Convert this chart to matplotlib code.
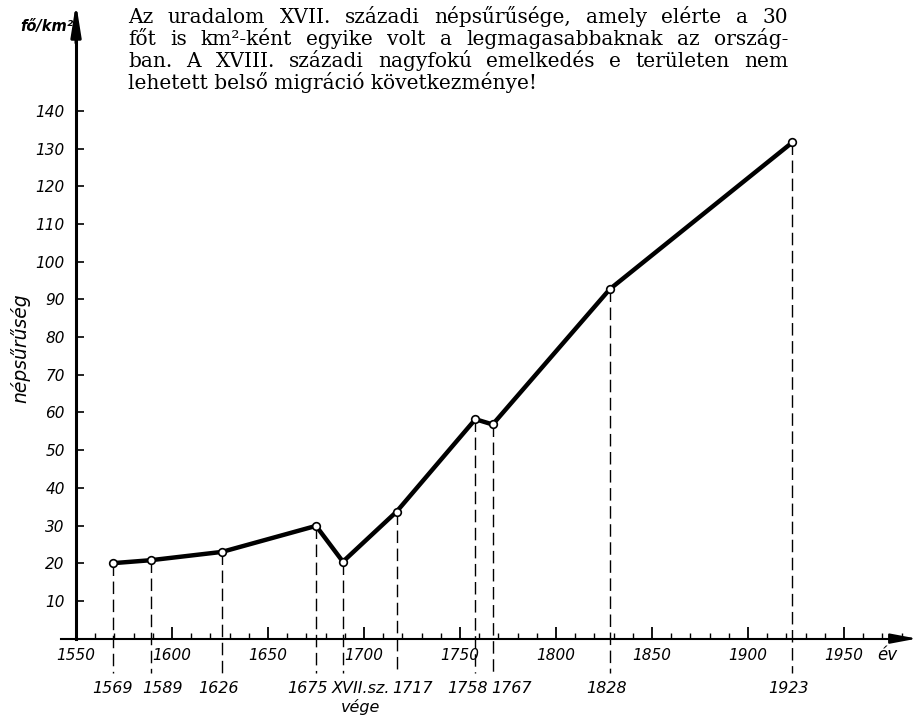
import matplotlib
matplotlib.use('Agg')
import matplotlib.pyplot as plt
from matplotlib.transforms import IdentityTransform

# DATA
years = [1569, 1589, 1626, 1675, 1689, 1717, 1758, 1767, 1828, 1923]
density = [20.0, 20.8, 23.0, 29.9, 20.4, 33.7, 58.2, 56.8, 92.7, 131.6]
year_labels = ['1569', '1589', '1626', '1675', 'XVII.sz.\nvége',
               '1717', '1758', '1767', '1828', '1923']
y_ticks = list(range(10, 150, 10))
x_major = list(range(1550, 2000, 50))
x_minor = list(range(1550, 1990, 10))
title_lines = [
    'Az uradalom XVII. századi népsűrűsége, amely elérte a 30',
    'főt is km²-ként egyike volt a legmagasabbaknak az ország-',
    'ban. A XVIII. századi nagyfokú emelkedés e területen nem',
    'lehetett belső migráció következménye!',
]

W, H = 922, 718


def justify_line(fig, renderer, text, x0, x1, ypix, justify, **kw):
    if not justify:
        fig.text(x0, ypix, text, transform=IdentityTransform(), va='baseline', **kw)
        return
    words = text.split(' ')
    objs = [fig.text(0, ypix, w, transform=IdentityTransform(), va='baseline', **kw) for w in words]
    widths = [t.get_window_extent(renderer).width for t in objs]
    gap = (x1 - x0 - sum(widths)) / (len(words) - 1)
    x = x0
    for t, w in zip(objs, widths):
        t.set_x(x)
        x += w + gap


def main():

    fig = plt.figure(figsize=(W / 100, H / 100), dpi=100)
    ax = fig.add_axes([0, 0, 1, 1])
    ax.set_xlim(1510.4, 1990.6)
    ax.set_ylim(-21.06, 169.4)
    ax.patch.set_alpha(0)

    # axes crossing at (1550, 0)
    ax.spines['top'].set_visible(False)
    ax.spines['right'].set_visible(False)
    ax.spines['left'].set_position(('data', 1550))
    ax.spines['bottom'].set_position(('data', 0))
    ax.spines['left'].set_bounds(0, 162)
    ax.spines['bottom'].set_bounds(1542, 1978)
    ax.spines['left'].set_linewidth(2.2)
    ax.spines['bottom'].set_linewidth(1.5)

    ax.annotate('', xy=(1550, 168.6), xytext=(1550, 158),
                arrowprops=dict(arrowstyle='-|>,head_length=1.9,head_width=0.3',
                                color='black', lw=2.2, shrinkA=0, shrinkB=0))
    ax.annotate('', xy=(1988, 0), xytext=(1975, 0),
                arrowprops=dict(arrowstyle='-|>,head_length=1.6,head_width=0.3',
                                color='black', lw=1.5, shrinkA=0, shrinkB=0))

    tick_font = dict(fontsize=11, fontstyle='italic', family='DejaVu Sans')

    ax.set_xticks(x_major)
    ax.set_xticks(x_minor, minor=True)
    ax.set_xticklabels([str(v) for v in x_major], **tick_font)
    ax.tick_params(axis='x', which='major', direction='in', length=9, width=1.3, pad=7)
    ax.tick_params(axis='x', which='minor', direction='in', length=4, width=1.0)

    ax.set_yticks(y_ticks)
    ax.set_yticklabels([str(v) for v in y_ticks], **tick_font)
    ax.tick_params(axis='y', which='major', direction='in', length=6, width=1.2, pad=8)

    # dashed drop lines
    for yr, v in zip(years, density):
        ax.plot([yr, yr], [v, -9], color='black', lw=1.0, dashes=(9, 4), zorder=2)

    ax.plot(years, density, color='black', lw=3.2, marker='o', ms=5.5,
            mfc='white', mec='black', mew=1.2, zorder=3, solid_joinstyle='round')

    # year labels under the drop lines (nudges in px)
    nudge = [0, 12, -3, -9, 18, 16, -8, 19, -3, -4]
    for yr, lab, dx in zip(years, year_labels, nudge):
        ax.annotate(lab, xy=(yr, -11.3), xytext=(dx * 0.72, 0), textcoords='offset points',
                    ha='center', va='top', fontsize=11.5, fontstyle='italic',
                    linespacing=1.2)

    ax.text(1972.4, -4.4, 'év', ha='center', va='center', fontsize=12, fontstyle='italic')

    ax.text(0.022, 0.515, 'népsűrűség', transform=fig.transFigure, rotation=90,
            ha='center', va='center', fontsize=13.5, fontstyle='italic')
    ax.text(73 / W, 1 - 26 / H, 'fő/km²', transform=fig.transFigure,
            ha='right', va='center', fontsize=10.5, fontstyle='italic', fontweight='bold')

    # title paragraph, justified
    renderer = fig.canvas.get_renderer()
    baselines = [23, 45, 67, 89]
    for i, (line, yb) in enumerate(zip(title_lines, baselines)):
        justify_line(fig, renderer, line, 128, 788, H - yb, i < 3,
                     fontsize=14.5, family='DejaVu Serif')

    fig.savefig('out.png', dpi=100)
    plt.close()


if __name__ == "__main__":
    main()
